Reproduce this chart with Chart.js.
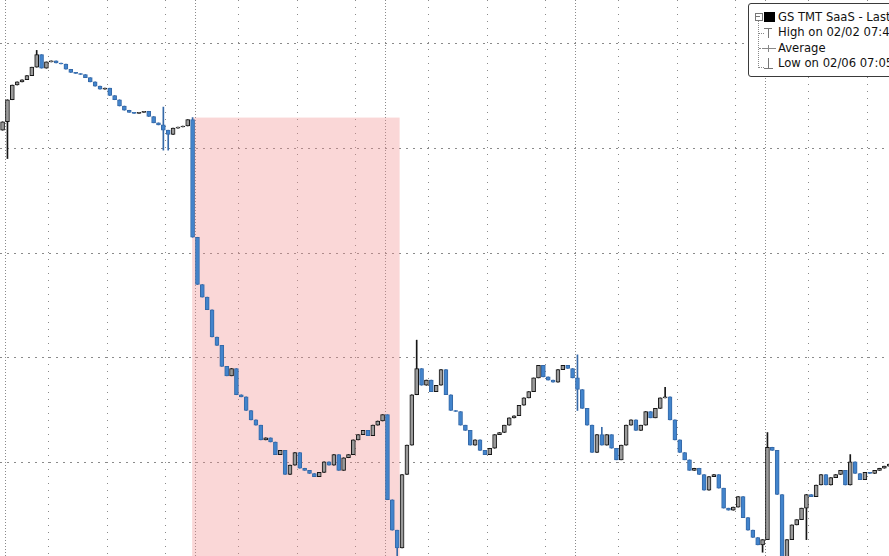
<!DOCTYPE html>
<html>
<head>
<meta charset="utf-8">
<title>GS TMT SaaS</title>
<script src="https://cdn.jsdelivr.net/npm/chart.js@4.4.1/dist/chart.umd.min.js"></script>
<style>
  html, body { margin: 0; padding: 0; background: #fff; overflow: hidden; }
  #wrap { position: relative; width: 889px; height: 556px; }
  #legend {
    position: absolute; left: 748px; top: 3px; width: 210px; height: 72px;
    border: 1px solid #3a3a3a; border-radius: 3px; background: #fff;
    font-family: "DejaVu Sans", sans-serif; font-size: 11.6px; color: #111;
  }
  #legend .row { position: absolute; left: 29px; height: 15px; line-height: 15px; white-space: nowrap; }
  #legend .sym { position: absolute; }
</style>
</head>
<body>
<div id="wrap">
  <canvas id="myChart"></canvas>
  <div id="legend">
    <!-- tree -->
    <div class="sym" style="left:6px;top:9px;width:6px;height:6px;border:1px solid #777;"></div>
    <div class="sym" style="left:7px;top:12px;width:4px;height:1px;background:#777;"></div>
    <div class="sym" style="left:9px;top:17px;width:0;height:47px;border-left:1px dotted #888;"></div>
    <div class="sym" style="left:10px;top:29px;width:5px;border-top:1px dotted #888;"></div>
    <div class="sym" style="left:10px;top:44px;width:4px;border-top:1px dotted #888;"></div>
    <div class="sym" style="left:10px;top:63px;width:5px;border-top:1px dotted #888;"></div>
    <!-- series square -->
    <div class="sym" style="left:15px;top:8px;width:11px;height:10px;background:#000;"></div>
    <!-- high -->
    <div class="sym" style="left:15px;top:24px;width:8px;height:1px;background:#777;"></div>
    <div class="sym" style="left:19px;top:24px;width:1px;height:10px;background:#777;"></div>
    <!-- average -->
    <div class="sym" style="left:13px;top:44px;width:14px;height:1px;background:#888;"></div>
    <div class="sym" style="left:19px;top:41px;width:1px;height:7px;background:#888;"></div>
    <!-- low -->
    <div class="sym" style="left:19px;top:54px;width:1px;height:10px;background:#777;"></div>
    <div class="sym" style="left:15px;top:64px;width:9px;height:1px;background:#777;"></div>
    <div class="row" style="top:6px;">GS TMT SaaS - Last Price</div>
    <div class="row" style="top:21px;">High on 02/02 07:40</div>
    <div class="row" style="top:37px;">Average</div>
    <div class="row" style="top:52px;">Low on 02/06 07:05</div>
  </div>
</div>
<script>
// 10-minute bars, first one is the last bar of the previous session
const closes = [
  132.5, 134.6, 136.0, 136.3, 136.5, 136.9, 137.7, 138.9, 137.6, 138.2,
  138.3, 138.1, 138.0, 137.5, 137.2, 137.1, 137.0, 136.7, 136.3, 135.9,
  135.6, 135.7, 135.0, 134.6, 134.0, 133.6, 133.4, 133.3, 133.4, 133.5,
  133.0, 132.4, 132.2, 131.7, 131.3, 131.9, 132.0, 132.1, 132.7, 121.5,
  117.0, 115.8, 114.6, 112.0, 111.2, 109.2, 108.3, 109.0, 106.5, 106.3,
  105.0, 104.1, 103.6, 102.2, 102.4, 102.0, 100.8, 101.2, 98.9, 99.8,
  101.0, 99.5, 99.3, 99.0, 98.7, 99.1, 100.1, 99.8, 100.8, 99.3,
  100.5, 100.8, 102.2, 102.7, 103.1, 102.6, 103.6, 104.0, 104.6, 96.5,
  93.6, 91.9, 98.9, 101.7, 106.5, 109.0, 107.4, 107.9, 106.8, 107.4,
  108.9, 106.5, 105.0, 104.9, 103.6, 103.1, 101.7, 102.2, 101.2, 100.8,
  101.4, 102.7, 102.9, 103.6, 104.3, 104.5, 105.5, 106.2, 106.8, 108.1,
  109.3, 108.2, 107.9, 107.7, 108.9, 109.3, 109.0, 108.1, 107.0, 105.2,
  103.6, 101.0, 102.7, 101.7, 102.7, 101.4, 100.3, 101.7, 103.6, 104.1,
  103.1, 103.6, 104.9, 104.3, 105.2, 106.2, 106.3, 104.1, 102.2, 101.0,
  100.3, 99.3, 99.5, 98.9, 97.4, 98.7, 98.9, 97.6, 95.7, 95.5,
  95.8, 96.8, 94.8, 93.6, 92.9, 92.2, 92.7, 101.5, 101.2, 97.0,
  90.8, 92.7, 94.1, 94.6, 95.7, 97.0, 96.8, 97.9, 98.9, 97.9,
  98.6, 98.9, 99.3, 97.9, 100.1, 99.0, 98.4, 99.1, 99.0, 99.3,
  99.5, 99.7, 99.9
]
const firstOpen = 131.7
// [bar, low, high] for wicks that reach past the body
const wicks = [
  [1, 129.0, null], [7, null, 139.3], [33, 129.8, 133.9], [34, 129.8, null],
  [39, null, 132.9], [81, 90.3, null], [85, null, 111.7], [118, 105.0, 110.3],
  [123, null, 103.4], [136, null, 107.2], [156, 91.5, null], [157, null, 102.9],
  [165, 92.7, null], [174, null, 100.8]
]
// highlighted sell-off: from bar 39 to bar 81
const shadeBars = [39, 81]
const shadeTop = 132.9
const shadeBottom = 90.3

const barMinutes = 10
const sessionStarts = [0, 390, 780, 1170, 1560]
const hourLines = [90, 210, 330, 480, 600, 720, 870, 990, 1110, 1260, 1380, 1500, 1650, 1770]
const priceTicks = [100, 110, 120, 130, 140]
const xMin = -10.3
const xMax = 1814.5
const yMin = 91.14
const yMax = 144.1

const barTime = (i) => (i - 1) * barMinutes + barMinutes / 2
const opens = closes.map((c, i) => i === 0 ? firstOpen : closes[i - 1])
const wickLo = closes.map((c, i) => Math.min(opens[i], c))
const wickHi = closes.map((c, i) => Math.max(opens[i], c))
wicks.forEach(([i, lo, hi]) => {
    if (lo !== null) wickLo[i] = lo
    if (hi !== null) wickHi[i] = hi
})
const isUp = (i) => closes[i] >= opens[i]

const upFill = '#9a9a9a'
const upLine = '#161616'
const downFill = '#4284cc'
const downLine = '#3569a8'

const shadePlugin = {
    id: 'shade',
    beforeDatasetsDraw(chart) {
        const { ctx, scales: { x, y } } = chart
        const left = x.getPixelForValue(barTime(shadeBars[0]) - barMinutes / 2) + 2
        const right = x.getPixelForValue(barTime(shadeBars[1]) + barMinutes / 2)
        const top = y.getPixelForValue(shadeTop)
        const bottom = y.getPixelForValue(shadeBottom)
        ctx.save()
        ctx.fillStyle = 'rgba(242, 140, 140, 0.35)'
        ctx.fillRect(left, top, right - left, bottom - top)
        ctx.restore()
    }
}

function configGraphAndRender() {
    const grafica = document.querySelector('#myChart')
    const data = {
        datasets: [{
            label: 'body',
            data: closes.map((c, i) => ({ x: barTime(i), y: [opens[i], c] })),
            backgroundColor: (ctx) => isUp(ctx.dataIndex) ? upFill : downFill,
            borderColor: (ctx) => isUp(ctx.dataIndex) ? upLine : downLine,
            borderWidth: 1,
            borderSkipped: false,
            barThickness: 4,
            minBarLength: 1,
            grouped: false
        }, {
            label: 'wick',
            data: closes.map((c, i) => ({ x: barTime(i), y: [wickLo[i], wickHi[i]] })),
            backgroundColor: (ctx) => isUp(ctx.dataIndex) ? upLine : downLine,
            borderWidth: 0,
            barThickness: 1,
            grouped: false
        }]
    }
    const config = {
        type: 'bar',
        data: data,
        plugins: [shadePlugin],
        options: {
            responsive: true,
            maintainAspectRatio: false,
            animation: false,
            layout: { padding: 0 },
            plugins: { legend: { display: false }, tooltip: { enabled: false } },
            scales: {
                x: {
                    type: 'linear', min: xMin, max: xMax, offset: false,
                    afterBuildTicks: (s) => { s.ticks = hourLines.map(v => ({ value: v })) },
                    ticks: { display: false },
                    grid: { color: '#8a8a8a', drawTicks: false, lineWidth: 1, offset: false },
                    border: { display: false, dash: [1, 6] }
                },
                days: {
                    type: 'linear', position: 'bottom', min: xMin, max: xMax, offset: false,
                    afterBuildTicks: (s) => { s.ticks = sessionStarts.map(v => ({ value: v })) },
                    ticks: { display: false },
                    grid: { color: '#8a8a8a', drawTicks: false, lineWidth: 1, offset: false },
                    border: { display: false, dash: [1, 2] }
                },
                y: {
                    min: yMin, max: yMax,
                    afterBuildTicks: (s) => { s.ticks = priceTicks.map(v => ({ value: v })) },
                    ticks: { display: false },
                    grid: { color: '#8a8a8a', drawTicks: false, lineWidth: 1 },
                    border: { display: false, dash: [2, 5] }
                }
            }
        }
    }
    const graphicmap = new Chart(grafica, config)
}

document.addEventListener('DOMContentLoaded', (event) => {
    configGraphAndRender()
})
</script>
</body>
</html>
